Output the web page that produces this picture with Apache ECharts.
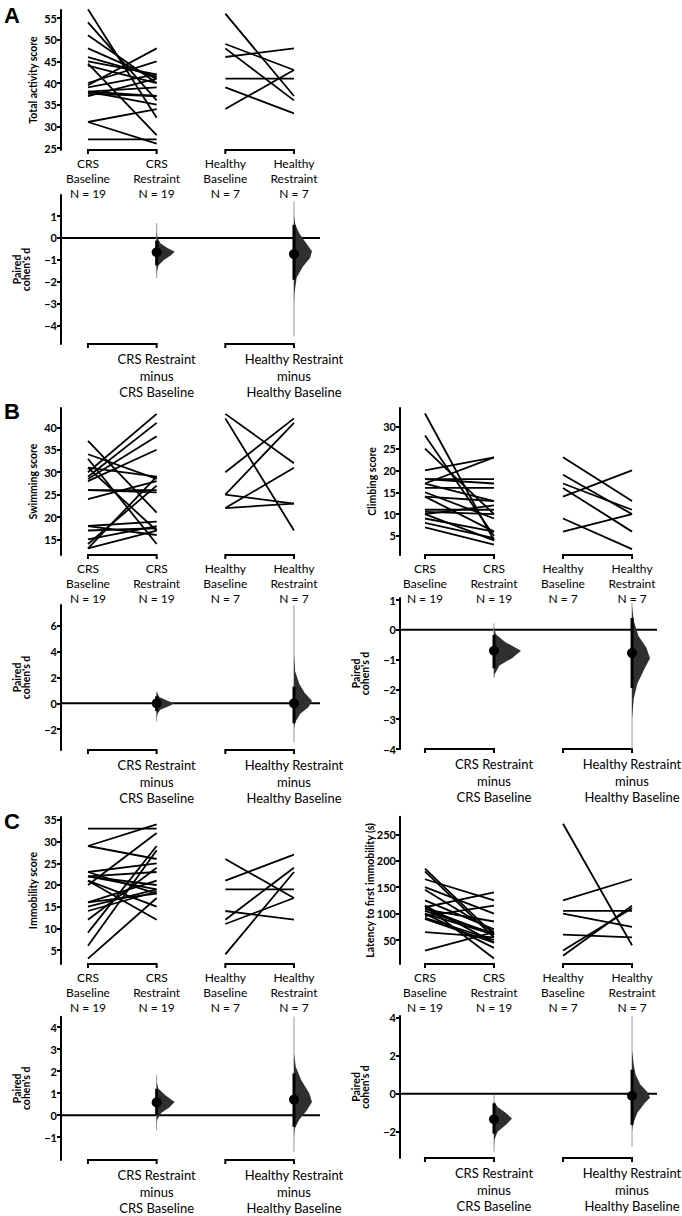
<!DOCTYPE html>
<html><head><meta charset="utf-8">
<script src="https://cdn.jsdelivr.net/npm/echarts@6/dist/echarts.min.js"></script>
<style>html,body{margin:0;padding:0;background:#fff}#c{width:682px;height:1216px}</style>
</head><body><div id="c"></div>
<script>
// ---------- categories ----------
const groupNames = ['CRS\nBaseline', 'CRS\nRestraint', 'Healthy\nBaseline', 'Healthy\nRestraint'];
const groupN = [19, 19, 7, 7];
const contrastLabels = ['CRS Restraint\nminus\nCRS Baseline', 'Healthy Restraint\nminus\nHealthy Baseline'];
const panelLetters = ['A', 'B', 'C'];

// ---------- Total activity ----------
const activityCrsBase = [57, 54, 51, 48, 46, 45, 44.5, 44, 40, 39.5, 39, 38, 38, 38, 37.5, 37, 31, 31, 27];
const activityCrsRest = [32, 36, 40, 41, 41.5, 42, 28, 40, 45, 48, 42, 39, 37, 35, 37, 41, 34, 26, 27];
const activityHealthyBase = [56, 49, 48, 46, 41, 39, 34];
const activityHealthyRest = [37, 43, 36, 48, 41, 33, 43];
const activityTicks = [25, 30, 35, 40, 45, 50, 55];
const activityEffect = [-0.65, -0.73];
const activityCi = [[-1.25, -0.12], [-1.9, 0.6]];
const activityTail = [[-1.82, 0.68], [-4.47, 1.67]];
const activityDist = [
  [[0.3, 0], [0.0, 0.05], [-0.25, 0.22], [-0.45, 0.6], [-0.62, 1], [-0.8, 0.78], [-1.0, 0.4], [-1.25, 0.1], [-1.6, 0]],
  [[1.0, 0], [0.6, 0.08], [0.2, 0.3], [-0.2, 0.65], [-0.6, 1], [-0.9, 0.9], [-1.3, 0.5], [-1.8, 0.15], [-2.5, 0.03], [-3.0, 0]]
];
const activityDTicks = [-4, -3, -2, -1, 0, 1];

// ---------- Swimming ----------
const swimCrsBase = [37, 34, 33, 31, 31, 30, 29, 28.5, 28, 26, 26, 24, 18, 18, 17, 15, 14, 13, 13];
const swimCrsRest = [21, 28.5, 14, 29, 17, 43, 41, 38, 35, 25.5, 26, 28, 19, 16, 17.5, 18, 27, 29, 17];
const swimHealthyBase = [43, 42, 30, 25, 25, 22, 22];
const swimHealthyRest = [32, 17, 42, 41, 23, 31, 23];
const swimTicks = [15, 20, 25, 30, 35, 40];
const swimEffect = [0.0, 0.0];
const swimCi = [[-0.6, 0.55], [-1.55, 1.3]];
const swimTail = [[-1.4, 0.9], [-3.0, 7.6]];
const swimDist = [
  [[0.9, 0], [0.5, 0.15], [0.2, 0.6], [0, 1], [-0.2, 0.7], [-0.5, 0.2], [-0.8, 0.05], [-1.2, 0]],
  [[3.8, 0], [2.5, 0.06], [1.5, 0.3], [0.8, 0.6], [0.2, 1], [-0.3, 0.8], [-0.8, 0.35], [-1.5, 0.05], [-2.0, 0]]
];
const swimDTicks = [-2, 0, 2, 4, 6];

// ---------- Climbing ----------
const climbCrsBase = [33, 28, 25, 20, 18, 18, 17, 17, 16, 15, 14, 14, 11, 10.5, 10, 10, 9, 8, 7];
const climbCrsRest = [4, 5, 10, 23, 18, 17, 23, 13, 16, 9, 13, 6, 11, 10, 12, 4, 6, 4.5, 3];
const climbHealthyBase = [23, 19, 17, 16, 14, 9, 6];
const climbHealthyRest = [13, 10, 11, 6, 20, 2, 10];
const climbTicks = [5, 10, 15, 20, 25, 30];
const climbEffect = [-0.7, -0.78];
const climbCi = [[-1.29, -0.17], [-1.95, 0.4]];
const climbTail = [[-1.62, 0.22], [-4.0, 0.9]];
const climbDist = [
  [[0.1, 0], [-0.15, 0.1], [-0.4, 0.6], [-0.7, 1.5], [-0.95, 1.0], [-1.2, 0.3], [-1.5, 0.03], [-1.6, 0]],
  [[0.8, 0], [0.3, 0.1], [-0.2, 0.35], [-0.6, 0.8], [-0.95, 1.0], [-1.3, 0.7], [-1.8, 0.3], [-2.3, 0.1], [-3.0, 0]]
];
const climbDTicks = [-4, -3, -2, -1, 0, 1];

// ---------- Immobility ----------
const immCrsBase = [33, 29, 29, 23, 23, 22, 22, 22, 21, 21, 20, 16, 16, 15, 14, 12, 9, 6, 3];
const immCrsRest = [33, 34, 26, 25, 18, 23, 19, 20, 15, 12, 32, 18, 21, 19, 18.5, 24, 29, 28, 17];
const immHealthyBase = [26, 21, 19, 14, 12, 11, 4];
const immHealthyRest = [17, 27, 19, 12, 24, 17, 23];
const immTicks = [5, 10, 15, 20, 25, 30, 35];
const immEffect = [0.58, 0.71];
const immCi = [[0.0, 1.2], [-0.53, 1.9]];
const immTail = [[-0.68, 1.82], [-1.67, 4.48]];
const immDist = [
  [[1.5, 0], [1.2, 0.1], [0.9, 0.5], [0.6, 1], [0.35, 0.7], [0.1, 0.25], [-0.2, 0.03], [-0.4, 0]],
  [[2.8, 0], [2.2, 0.1], [1.6, 0.4], [1.0, 0.85], [0.6, 1], [0.2, 0.7], [-0.2, 0.3], [-0.6, 0.05], [-1.0, 0]]
];
const immDTicks = [-1, 0, 1, 2, 3, 4];

// ---------- Latency ----------
const latCrsBase = [185, 180, 165, 150, 145, 125, 115, 115, 112, 110, 108, 105, 100, 100, 95, 92, 90, 65, 30];
const latCrsRest = [60, 55, 125, 100, 65, 70, 45, 15, 140, 60, 85, 62, 35, 60, 115, 50, 45, 55, 65];
const latHealthyBase = [270, 125, 105, 100, 60, 30, 20];
const latHealthyRest = [40, 165, 105, 75, 55, 110, 115];
const latTicks = [50, 100, 150, 200, 250];
const latEffect = [-1.34, -0.1];
const latCi = [[-2.1, -0.5], [-1.64, 1.27]];
const latTail = [[-3.05, -0.05], [-2.8, 4.1]];
const latDist = [
  [[-0.4, 0], [-0.7, 0.2], [-1.0, 0.65], [-1.3, 1.0], [-1.6, 0.7], [-2.0, 0.2], [-2.4, 0.03], [-2.8, 0]],
  [[2.3, 0], [1.5, 0.1], [1.0, 0.2], [0.5, 0.45], [0.1, 0.85], [-0.2, 1], [-0.5, 0.7], [-1.0, 0.3], [-1.6, 0.05], [-2.0, 0]]
];
const latDTicks = [-2, 0, 2, 4];

// ---------- layout (positions / styles only) ----------
const FONT = 'Lato, "Open Sans", sans-serif';
const VW = 18; // violin px per density unit
const colL = { left: 61, width: 259, xmin: -0.393, xmax: 3.379 };
const colR = { left: 400, width: 257, xmin: -0.362, xmax: 3.362 };
const panels = [
  { col: colL, title: 'Total activity score', gap: 22,
    base: [activityCrsBase, activityCrsRest, activityHealthyBase, activityHealthyRest], ticks: activityTicks,
    eff: activityEffect, ci: activityCi, tail: activityTail, dist: activityDist, dticks: activityDTicks,
    top: { top: 10, height: 140, min: 24.54, max: 56.85 }, bot: { top: 195, height: 149, min: -4.82, max: 1.955 } },
  { col: colL, title: 'Swimming score', gap: 22,
    base: [swimCrsBase, swimCrsRest, swimHealthyBase, swimHealthyRest], ticks: swimTicks,
    eff: swimEffect, ci: swimCi, tail: swimTail, dist: swimDist, dticks: swimDTicks,
    top: { top: 408, height: 147, min: 11.54, max: 44.31 }, bot: { top: 605, height: 145, min: -3.61, max: 7.61 } },
  { col: colR, title: 'Climbing score', gap: 22,
    base: [climbCrsBase, climbCrsRest, climbHealthyBase, climbHealthyRest], ticks: climbTicks,
    eff: climbEffect, ci: climbCi, tail: climbTail, dist: climbDist, dticks: climbDTicks,
    top: { top: 408, height: 147, min: 0.655, max: 34.27 }, bot: { top: 598, height: 151, min: -4.0, max: 1.07 } },
  { col: colL, title: 'Immobility score', gap: 22,
    base: [immCrsBase, immCrsRest, immHealthyBase, immHealthyRest], ticks: immTicks,
    eff: immEffect, ci: immCi, tail: immTail, dist: immDist, dticks: immDTicks,
    top: { top: 817, height: 147, min: 1.77, max: 35.69 }, bot: { top: 1016.7, height: 143.3, min: -2.04, max: 4.48 } },
  { col: colR, title: 'Latency to first immobility (s)', gap: 24,
    base: [latCrsBase, latCrsRest, latHealthyBase, latHealthyRest], ticks: latTicks,
    eff: latEffect, ci: latCi, tail: latTail, dist: latDist, dticks: latDTicks,
    top: { top: 816.7, height: 147.3, min: 4.57, max: 283.4 }, bot: { top: 1016, height: 142, min: -3.38, max: 4.1 } }
];

const grids = [], xAxes = [], yAxes = [], series = [];

function yAxisCfg(idx, g, ticks, name, gap, lh) {
  return {
    type: 'value', gridIndex: idx, min: g.min, max: g.max,
    name: name, nameLocation: 'middle', nameGap: gap, nameRotate: 90, nameMoveOverlap: false,
    nameTextStyle: { fontFamily: FONT, fontWeight: 'bold', fontSize: 10.5, color: '#000', lineHeight: lh },
    axisLine: { show: true, onZero: false, lineStyle: { color: '#000', width: 2 } },
    axisTick: { show: true, length: 4, customValues: ticks, lineStyle: { color: '#000', width: 2 } },
    axisLabel: { customValues: ticks, fontFamily: FONT, fontWeight: 'bold', fontSize: 11, color: '#000', margin: 4,
      formatter: v => String(v).replace('-', '\u2212') },
    splitLine: { show: false }
  };
}

function bracketSeries(xi, yi) {
  return {
    type: 'custom', xAxisIndex: xi, yAxisIndex: yi, silent: true,
    data: [[0, 1], [2, 3]], encode: { x: [0, 1] },
    renderItem: function (params, api) {
      const a = api.coord([api.value(0), 0])[0];
      const b = api.coord([api.value(1), 0])[0];
      const y = params.coordSys.y + params.coordSys.height;
      return { type: 'polyline', shape: { points: [[a, y + 4], [a, y], [b, y], [b, y + 4]] },
        style: { stroke: '#000', lineWidth: 2, fill: null } };
    }
  };
}

panels.forEach((p, k) => {
  const gi = grids.length;
  // paired-lines grid
  grids.push({ left: p.col.left, width: p.col.width, top: p.top.top, height: p.top.height, outerBoundsMode: 'none' });
  grids.push({ left: p.col.left, width: p.col.width, top: p.bot.top, height: p.bot.height, outerBoundsMode: 'none' });
  const groupLabels = groupNames.map((n, i) => n + '\nN = ' + groupN[i]);
  xAxes.push({
    type: 'value', gridIndex: gi, min: p.col.xmin, max: p.col.xmax,
    axisLine: { show: false, onZero: false }, axisTick: { show: false }, splitLine: { show: false },
    axisLabel: { customValues: [0, 1, 2, 3], formatter: v => groupLabels[Math.round(v)],
      fontFamily: FONT, fontSize: 12, lineHeight: 15, color: '#000', margin: 6 }
  });
  xAxes.push({
    type: 'value', gridIndex: gi + 1, min: p.col.xmin, max: p.col.xmax,
    axisLine: { show: false, onZero: false }, axisTick: { show: false }, splitLine: { show: false },
    axisLabel: { customValues: [1, 3], formatter: v => contrastLabels[Math.round((v - 1) / 2)],
      fontFamily: FONT, fontSize: 13, lineHeight: 16.5, color: '#000', margin: 7 }
  });
  yAxes.push(yAxisCfg(gi, p.top, p.ticks, p.title, p.gap, 12));
  yAxes.push(yAxisCfg(gi + 1, p.bot, p.dticks, "Paired\ncohen's d", 31, 8.5));

  // paired lines
  const pairs = [];
  p.base[0].forEach((v, i) => pairs.push([0, v, 1, p.base[1][i]]));
  p.base[2].forEach((v, i) => pairs.push([2, v, 3, p.base[3][i]]));
  series.push({
    type: 'custom', xAxisIndex: gi, yAxisIndex: gi, silent: true, data: pairs,
    encode: { x: [0, 2], y: [1, 3] },
    renderItem: function (params, api) {
      const a = api.coord([api.value(0), api.value(1)]);
      const b = api.coord([api.value(2), api.value(3)]);
      return { type: 'line', shape: { x1: a[0], y1: a[1], x2: b[0], y2: b[1] },
        style: { stroke: '#000', lineWidth: 1.8 } };
    }
  });
  series.push(bracketSeries(gi, gi));
  series.push(bracketSeries(gi + 1, gi + 1));

  // zero line
  series.push({
    type: 'custom', xAxisIndex: gi + 1, yAxisIndex: gi + 1, silent: true, data: [[0, 0]],
    renderItem: function (params, api) {
      const y = api.coord([0, 0])[1];
      const cs = params.coordSys;
      return { type: 'line', shape: { x1: cs.x, y1: y, x2: cs.x + cs.width, y2: y },
        style: { stroke: '#000', lineWidth: 2 } };
    }
  });

  // effect sizes with bootstrap distributions
  const effData = p.eff.map((d, i) => [2 * i + 1, d, p.ci[i][0], p.ci[i][1], p.tail[i][0], p.tail[i][1]]);
  const dist = p.dist;
  series.push({
    type: 'custom', xAxisIndex: gi + 1, yAxisIndex: gi + 1, silent: true, data: effData,
    encode: { x: 0, y: [1, 2, 3, 4, 5] },
    renderItem: function (params, api) {
      const pos = api.value(0);
      const c = api.coord([pos, api.value(1)]);
      const cx = c[0];
      const yOf = v => api.coord([pos, v])[1];
      const prof = dist[params.dataIndex];
      const pts = prof.map(q => [cx + q[1] * VW, yOf(q[0])]);
      const poly = [[cx, pts[0][1]]].concat(pts, [[cx, pts[pts.length - 1][1]]]);
      return { type: 'group', children: [
        { type: 'line', shape: { x1: cx, y1: yOf(api.value(5)), x2: cx, y2: yOf(api.value(4)) },
          style: { stroke: '#9a9a9a', lineWidth: 1 } },
        { type: 'polygon', shape: { points: poly, smooth: 0 }, style: { fill: '#2f2f2f' } },
        { type: 'line', shape: { x1: cx, y1: yOf(api.value(3)), x2: cx, y2: yOf(api.value(2)) },
          style: { stroke: '#000', lineWidth: 3 } },
        { type: 'circle', shape: { cx: cx, cy: c[1], r: 5 }, style: { fill: '#000' } }
      ] };
    }
  });
});

const letterPos = [[4, 4], [4, 400], [4, 810]];
const chart = echarts.init(document.getElementById('c'), null, { renderer: 'svg' });
chart.setOption({
  animation: false,
  backgroundColor: '#fff',
  grid: grids, xAxis: xAxes, yAxis: yAxes, series: series,
  graphic: panelLetters.map((t, i) => ({
    type: 'text', left: letterPos[i][0], top: letterPos[i][1],
    style: { text: t, font: 'bold 22px "Liberation Sans", Arial, sans-serif', fill: '#000' }
  }))
});
</script></body></html>
